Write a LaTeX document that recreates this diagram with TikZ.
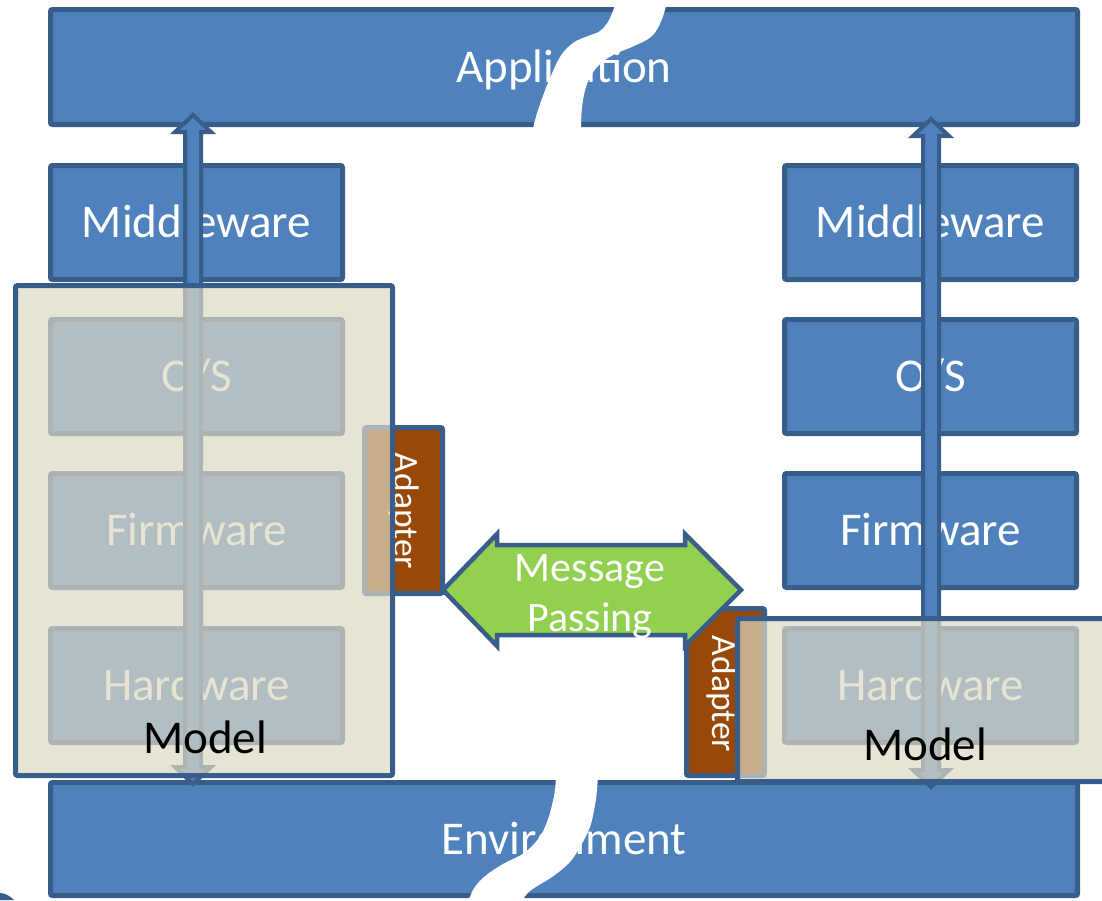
\documentclass[tikz,border=0pt]{standalone}
\usepackage{fontspec}
\setmainfont{Carlito}
\definecolor{boxblue}{HTML}{4F81BD}
\definecolor{edgeblue}{HTML}{385D8A}
\definecolor{msggreen}{HTML}{92D050}
\definecolor{adbrown}{HTML}{984807}
\definecolor{modelfill}{HTML}{DDD9C3}
\begin{document}
\begin{tikzpicture}[x=1pt,y=-1pt,
  box/.style={draw=edgeblue, fill=boxblue, line width=5pt, rounded corners=2pt,
    inner sep=0pt, outer sep=0pt, text=white, font=\fontsize{47}{56}\selectfont,
    text height=30pt, text depth=0pt},
  colbox/.style={box, minimum width=292pt, minimum height=114pt},
  widebox/.style={box, minimum width=1027pt},
  blockarrow/.style={draw=edgeblue, fill=boxblue, line width=4pt, line join=miter},
  adapterbox/.style={draw=edgeblue, fill=adbrown, line width=5pt, rounded corners=2pt,
    inner sep=0pt, outer sep=0pt, minimum width=78pt},
  adaptertext/.style={text=white, rotate=-90, inner sep=0pt,
    font=\fontsize{35.5}{42}\selectfont, text height=22pt, text depth=0pt},
  modelbox/.style={draw=edgeblue, fill=modelfill, fill opacity=0.7, line width=5pt,
    rounded corners=2pt, inner sep=0pt, outer sep=0pt},
  modeltext/.style={text=black, inner sep=0pt, font=\fontsize{47}{56}\selectfont,
    text height=30pt, text depth=0pt},
  msgarrow/.style={draw=edgeblue, fill=msggreen, line width=4.5pt, line join=miter},
  msgtext/.style={text=white, inner sep=0pt, align=center,
    font=\fontsize{42}{50}\selectfont},
  breakband/.style={fill=white, draw=none}
]
\useasboundingbox (0,0) rectangle (1102,900);

% layers of the stack
\node[widebox, minimum height=115pt] (app) at (564,67) {Application};
\node[colbox] (lmw) at (196.5,222.5) {Middleware};
\node[colbox] (los) at (196.5,376.5) {O/S};
\node[colbox] (lfw) at (196.5,530.5) {Firmware};
\node[colbox] (lhw) at (196.5,685.5) {Hardware};
\node[colbox] (rmw) at (930.5,222.5) {Middleware};
\node[colbox] (ros) at (930.5,376.5) {O/S};
\node[colbox] (rfw) at (930.5,530.5) {Firmware};
\node[colbox] (rhw) at (930.5,685.5) {Hardware};
\node[widebox, minimum height=113pt] (env) at (564,839) {Environment};

% vertical double block arrows
\filldraw[blockarrow] (185,132) -- (175,132) -- (193,115) -- (211,132) -- (201,132)
  -- (201,767) -- (211,767) -- (193,784) -- (175,767) -- (185,767) -- cycle;
\filldraw[blockarrow] (923,136) -- (913,136) -- (931,119) -- (949,136) -- (939,136)
  -- (939,770) -- (949,770) -- (931,787) -- (913,770) -- (923,770) -- cycle;

% adapters
\node[adapterbox, minimum height=166pt] (ladapt) at (403.5,510.5) {};
\node[adaptertext] (ladtext) at (405.5,511) {Adapter};
\node[adapterbox, minimum height=167pt] (radapt) at (725.5,692) {};
\node[adaptertext] (radtext) at (723,694) {Adapter};

% models (translucent overlays)
\node[modelbox, minimum width=377pt, minimum height=490pt] (lmodel) at (204,530.5) {};
\node[modelbox, minimum width=375pt, minimum height=163pt] (rmodel) at (925,700) {};

% message passing arrow
\filldraw[msgarrow] (443,590) -- (497,534) -- (497,545) -- (685,545) -- (685,534)
  -- (741,590) -- (685,646) -- (685,635) -- (497,635) -- (497,646) -- cycle;
\node[msgtext] (msg) at (590,597) {Message\\Passing};

% model labels
\node[modeltext] (lmodeltext) at (205,738) {Model};
\node[modeltext] (rmodeltext) at (925,745) {Model};

% break bands
\fill[breakband] plot[smooth, tension=0.6] coordinates {(620,-6) (617,0) (609,20) (600,31)
  (588,36) (573,43) (560,57) (548,83) (538,110) (532,132)}
  -- plot[smooth, tension=0.6] coordinates {(581,132) (582,107) (587,84) (597,67)
  (613,55) (634,46) (652,36) (662,19) (669,-6)} -- cycle;
\fill[breakband] plot[smooth, tension=0.6] coordinates {(556,775) (555,790) (552,805)
  (547,822) (539,838) (524,853) (503,864) (484,877) (473,890) (467,905)}
  -- plot[smooth, tension=0.6] coordinates {(519,905) (530,891) (552,877) (569,863)
  (580,847) (590,827) (595,805) (597,790) (598,775)} -- cycle;

% small sliver bottom-left
\fill[edgeblue] (0,893) .. controls (5,893) and (10,896) .. (14,900) -- (0,900) -- cycle;
\end{tikzpicture}
\end{document}
